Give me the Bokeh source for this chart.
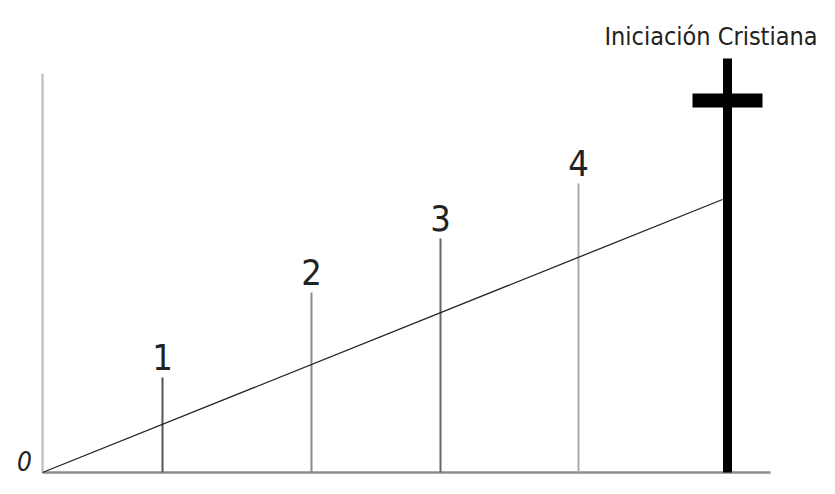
from bokeh.plotting import figure
from bokeh.models import Range1d, ColumnDataSource
from bokeh.core.properties import value
from bokeh.embed import file_html
from bokeh.resources import INLINE

# Stages (ticks along the path)
stage_labels = ["1", "2", "3", "4"]
stage_x = [120, 269, 398, 536]
stage_h = [95, 180, 234, 289]
stage_colors = ["#555555", "#8a8a8a", "#666666", "#aaaaaa"]

# Rising path from the origin to the cross
path_x = [0, 680]
path_y = [0, 273]

# Axes extents
xaxis_x = [0, 728]
xaxis_y = [0, 0]
yaxis_x = [0, 0]
yaxis_y = [0, 399]

# Cross (Iniciación Cristiana)
cross_x = 685
cross_top = 414
cross_bar_y = 372
cross_bar_half = 35
cross_label = "Iniciación Cristiana"
origin_label = "0"

NARROW = "DejaVu Sans Condensed"

W, H = 819, 478
OX, OY = 42, 6  # origin offset inside the frame
p = figure(width=W, height=H, output_backend="svg", toolbar_location=None,
           x_range=Range1d(-OX, W - OX), y_range=Range1d(-OY, H - OY),
           min_border=0)
p.axis.visible = False
p.grid.visible = False
p.outline_line_color = None
p.background_fill_color = "white"

# axes
p.line(xaxis_x, xaxis_y, line_color="#8c8c8c", line_width=2.5)
p.line(yaxis_x, yaxis_y, line_color="#c4c4c4", line_width=2.5)

# stage lines
src = ColumnDataSource(dict(x=stage_x, y0=[0]*len(stage_x), y1=stage_h,
                            ly=[h + 21 for h in stage_h], lab=stage_labels,
                            c=stage_colors))
p.segment(x0="x", y0="y0", x1="x", y1="y1", source=src,
          line_color="c", line_width=2)
p.text(x="x", y="ly", text="lab", source=src, text_align="center",
       text_baseline="middle", text_font=value(NARROW),
       text_font_size="36px", text_color="#222222")

# diagonal path
p.line(path_x, path_y, line_color="#222222", line_width=1.3)

# cross
p.segment(x0=[cross_x], y0=[0], x1=[cross_x], y1=[cross_top],
          line_color="black", line_width=9)
p.segment(x0=[cross_x - cross_bar_half], y0=[cross_bar_y],
          x1=[cross_x + cross_bar_half], y1=[cross_bar_y],
          line_color="black", line_width=14)

p.text(x=[W - OX - 2], y=[cross_top + 22], text=[cross_label],
       text_align="right", text_baseline="middle",
       text_font=value(NARROW), text_font_size="25px",
       text_color="#222222")

p.text(x=[-18], y=[12], text=[origin_label], text_align="center",
       text_baseline="middle", text_font=value(NARROW),
       text_font_style="italic", text_font_size="26px", text_color="#222222")

open("out.html", "w").write(file_html(p, INLINE))
